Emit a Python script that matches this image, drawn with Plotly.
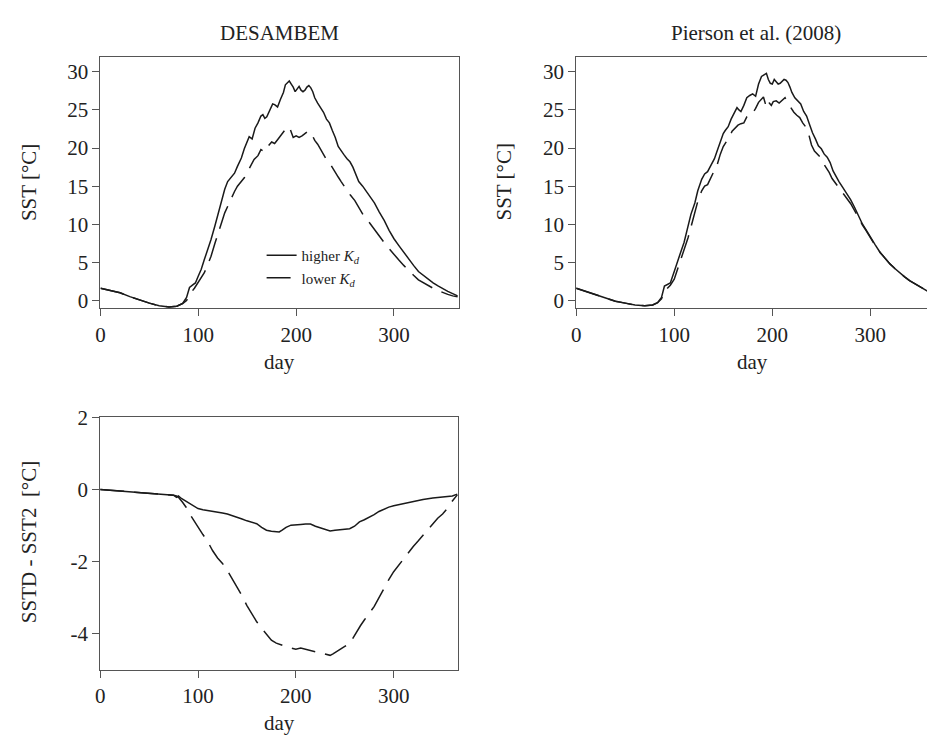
import plotly.graph_objects as go

# ---------------- data ----------------
# Panel 1: DESAMBEM, SST [°C]
day_d_high = [0, 10, 20, 30, 40, 50, 60, 70, 78, 84, 88, 91, 94, 97, 100, 103, 106, 110, 113, 117,
              120, 124, 127, 130, 133, 137, 140, 144, 147, 150, 152, 155, 158, 161, 164, 166, 168, 170,
              173, 176, 178, 181, 184, 187, 189, 191, 193, 195, 197, 199, 201, 203, 205, 207, 209, 211,
              213, 215, 217, 219, 222, 225, 228, 231, 234, 237, 240, 243, 246, 249, 252, 255, 258, 261,
              264, 268, 272, 276, 280, 285, 290, 295, 300, 305, 310, 315, 320, 325, 330, 335, 340, 345,
              350, 355, 360, 365]
sst_d_high = [1.6, 1.3, 1.0, 0.5, 0.05, -0.35, -0.7, -0.85, -0.75, -0.4, 0.4, 1.7, 2.0, 2.3, 3.2, 4.1,
              5.3, 6.7, 8.0, 9.8, 11.2, 12.9, 14.6, 15.6, 16.1, 16.7, 17.6, 18.7, 19.9, 20.9, 21.5, 21.2,
              22.6, 23.3, 24.2, 24.4, 23.9, 24.1, 25.0, 25.8, 25.7, 25.4, 26.4, 27.3, 28.3, 28.5, 28.8,
              28.4, 28.0, 27.4, 27.8, 28.1, 27.6, 27.4, 27.6, 28.0, 28.2, 27.9, 27.4, 26.6, 25.9, 25.3,
              24.7, 23.8, 23.3, 22.3, 21.4, 20.2, 19.6, 19.1, 18.6, 18.2, 17.5, 16.4, 15.6, 15.0, 14.3,
              13.6, 12.8, 11.6, 10.5, 9.2, 8.1, 7.2, 6.3, 5.4, 4.6, 3.8, 3.3, 2.7, 2.3, 1.9, 1.5, 1.2,
              0.9, 0.6]

day_d_low = [0, 10, 20, 30, 40, 50, 60, 70, 78, 84, 88, 90, 93, 96, 100, 103, 106, 110, 113, 117,
             120, 124, 127, 130, 133, 137, 140, 144, 147, 150, 154, 157, 161, 164, 168, 171, 175, 178,
             181, 184, 187, 190, 193, 195, 197, 200, 203, 206, 209, 212, 215, 217, 219, 222, 225, 228,
             231, 234, 237, 240, 243, 246, 250, 255, 260, 265, 270, 275, 280, 285, 290, 295, 300, 305,
             310, 315, 320, 325, 330, 335, 340, 345, 350, 355, 360, 365]
sst_d_low = [1.6, 1.3, 1.0, 0.5, 0.05, -0.35, -0.7, -0.85, -0.75, -0.4, 0.0, 0.5, 1.1, 1.6, 2.4, 3.0,
             3.6, 4.8, 5.8, 7.5, 8.6, 10.3, 11.5, 12.4, 13.3, 14.3, 15.0, 15.6, 16.1, 16.8, 17.8, 18.5,
             19.0, 19.8, 19.5, 20.2, 20.8, 20.6, 21.1, 21.6, 22.0, 22.6, 22.8, 22.2, 21.4, 21.6, 21.4,
             21.6, 21.9, 22.2, 22.1, 21.6, 21.0, 20.5, 19.8, 19.0, 18.5, 18.1, 17.4, 16.9, 16.2, 15.6,
             14.8, 13.9, 13.1, 12.0, 10.9, 10.2, 9.3, 8.4, 7.6, 6.8, 6.0, 5.3, 4.6, 3.9, 3.3, 2.7, 2.3,
             1.9, 1.6, 1.3, 1.0, 0.8, 0.6, 0.5]

# Panel 2: Pierson et al. (2008), SST [°C]
day_p_high = [0, 10, 20, 30, 40, 50, 60, 70, 78, 83, 87, 90, 93, 96, 100, 104, 107, 110, 114, 117,
              121, 124, 128, 131, 134, 137, 141, 144, 147, 150, 152, 155, 158, 161, 164, 166, 168, 171,
              174, 177, 180, 183, 186, 189, 192, 194, 196, 198, 200, 202, 204, 206, 208, 210, 212, 214,
              216, 218, 220, 223, 226, 229, 232, 235, 238, 241, 244, 247, 250, 253, 256, 259, 262, 265,
              268, 272, 276, 280, 284, 288, 292, 296, 300, 305, 310, 315, 320, 325, 330, 335, 340, 345,
              350, 355, 360, 365]
sst_p_high = [1.6, 1.2, 0.8, 0.3, -0.1, -0.35, -0.6, -0.7, -0.6, -0.3, 0.4, 1.9, 2.1, 2.3, 3.8, 5.2,
              6.5, 7.6, 9.6, 11.3, 12.8, 14.4, 15.9, 16.6, 16.9, 17.6, 18.6, 19.7, 20.8, 21.9, 22.3,
              22.8, 23.8, 24.6, 25.3, 25.0, 24.8, 25.6, 26.6, 26.9, 27.1, 26.8, 28.4, 29.4, 29.6, 29.8,
              29.0, 28.5, 28.4, 29.0, 28.7, 28.4, 28.5, 28.7, 29.0, 28.9, 28.6, 28.0, 27.3, 26.6, 26.2,
              25.8, 24.8, 24.2, 23.1, 22.0, 21.2, 20.3, 19.9, 19.2, 18.8, 18.1, 17.0, 16.2, 15.6, 14.8,
              14.0, 13.2, 12.2, 11.1, 10.0, 9.2, 8.3, 7.3, 6.3, 5.5, 4.8, 4.2, 3.6, 3.1, 2.6, 2.2, 1.8,
              1.4, 1.1, 0.8]

day_p_low = [0, 10, 20, 30, 40, 50, 60, 70, 78, 83, 87, 90, 93, 96, 100, 104, 107, 110, 114, 117,
             121, 124, 128, 131, 134, 137, 141, 144, 147, 150, 153, 156, 159, 162, 165, 168, 171, 174,
             177, 180, 183, 186, 189, 191, 193, 195, 197, 199, 201, 204, 207, 210, 213, 216, 219, 222,
             225, 228, 231, 234, 237, 240, 243, 246, 249, 252, 255, 258, 261, 264, 268, 272, 276, 280,
             284, 288, 292, 296, 300, 305, 310, 315, 320, 325, 330, 335, 340, 345, 350, 355, 360, 365]
sst_p_low = [1.6, 1.2, 0.8, 0.3, -0.1, -0.35, -0.6, -0.7, -0.6, -0.3, 0.2, 1.2, 1.6, 2.0, 2.8, 4.3,
             5.4, 6.7, 8.2, 9.6, 11.4, 13.0, 14.4, 15.0, 15.2, 16.0, 17.0, 17.9, 19.2, 20.2, 20.8, 21.4,
             22.2, 22.6, 23.0, 23.2, 23.3, 24.1, 24.6, 24.6, 25.2, 26.0, 26.5, 26.7, 25.8, 26.5, 25.9,
             25.6, 26.1, 26.2, 25.9, 26.3, 26.6, 25.9, 25.2, 24.7, 24.3, 24.0, 23.3, 22.8, 21.9, 20.4,
             19.6, 19.2, 18.8, 18.0, 17.4, 16.8, 16.0, 15.5, 14.8, 14.1, 13.4, 12.7, 11.8, 10.8, 9.9,
             9.1, 8.2, 7.2, 6.3, 5.5, 4.8, 4.2, 3.6, 3.1, 2.6, 2.2, 1.8, 1.4, 1.1, 0.8]

# Panel 3: SSTD - SST2 [°C]
day_diff_high = [0, 10, 20, 30, 40, 50, 60, 70, 75, 78, 80, 83, 86, 90, 95, 100, 105, 110, 115, 120,
                 125, 130, 135, 140, 145, 150, 155, 160, 165, 170, 175, 180, 183, 186, 190, 195, 200,
                 205, 210, 215, 220, 225, 230, 235, 240, 245, 250, 255, 260, 265, 270, 275, 280, 285,
                 290, 295, 300, 310, 320, 330, 340, 350, 360, 365]
diff_high = [0.0, -0.02, -0.04, -0.06, -0.09, -0.11, -0.12, -0.14, -0.16, -0.22, -0.18, -0.25, -0.30,
             -0.38, -0.47, -0.53, -0.56, -0.58, -0.59, -0.62, -0.65, -0.68, -0.72, -0.77, -0.82, -0.87,
             -0.91, -0.95, -1.05, -1.13, -1.16, -1.17, -1.18, -1.13, -1.05, -0.99, -0.97, -0.97, -0.96,
             -0.96, -1.02, -1.07, -1.12, -1.15, -1.13, -1.12, -1.12, -1.09, -1.02, -0.90, -0.84, -0.78,
             -0.70, -0.61, -0.54, -0.49, -0.45, -0.39, -0.33, -0.28, -0.24, -0.21, -0.18, -0.13]

day_diff_low = [0, 10, 20, 30, 40, 50, 60, 70, 75, 78, 80, 84, 88, 92, 96, 100, 105, 110, 115, 120,
                125, 130, 135, 140, 145, 150, 155, 160, 165, 170, 175, 180, 185, 190, 195, 200, 205,
                210, 215, 220, 225, 230, 235, 238, 242, 246, 250, 254, 258, 262, 266, 270, 275, 280,
                285, 290, 295, 300, 305, 310, 315, 320, 325, 330, 335, 340, 345, 350, 355, 360, 365]
diff_low = [0.0, -0.02, -0.04, -0.06, -0.09, -0.11, -0.12, -0.14, -0.16, -0.18, -0.22, -0.35, -0.50,
            -0.70, -0.88, -1.05, -1.25, -1.45, -1.70, -1.90, -2.05, -2.25, -2.48, -2.70, -2.95, -3.22,
            -3.45, -3.67, -3.85, -4.03, -4.18, -4.26, -4.32, -4.36, -4.40, -4.43, -4.40, -4.43, -4.46,
            -4.50, -4.52, -4.56, -4.60, -4.56, -4.48, -4.42, -4.35, -4.30, -4.14, -3.95, -3.78, -3.62,
            -3.45, -3.25, -3.00, -2.74, -2.50, -2.28, -2.10, -1.92, -1.75, -1.58, -1.43, -1.27, -1.12,
            -0.95, -0.80, -0.68, -0.52, -0.32, -0.15]

x_ticks = [0, 100, 200, 300]
sst_ticks = [0, 5, 10, 15, 20, 25, 30]
diff_ticks = [-4, -2, 0, 2]
diff_tick_labels = ["-4", "-2", "0", "2"]

# ---------------- figure ----------------
W, H = 927, 740
LINE = "#1a1a1a"
SERIF = "Liberation Serif"
solid = dict(color=LINE, width=1.5)
dashed = dict(color=LINE, width=1.5, dash="24px,10px")

fig = go.Figure()
fig.add_trace(go.Scatter(x=day_d_high, y=sst_d_high, mode="lines", line=solid,
                         name="higher <i>K<sub>d</sub></i>", xaxis="x", yaxis="y"))
fig.add_trace(go.Scatter(x=day_d_low, y=sst_d_low, mode="lines", line=dashed,
                         name="lower <i>K<sub>d</sub></i>", xaxis="x", yaxis="y"))
fig.add_trace(go.Scatter(x=day_p_high, y=sst_p_high, mode="lines", line=solid,
                         showlegend=False, xaxis="x2", yaxis="y2"))
fig.add_trace(go.Scatter(x=day_p_low, y=sst_p_low, mode="lines", line=dashed,
                         showlegend=False, xaxis="x2", yaxis="y2"))
fig.add_trace(go.Scatter(x=day_diff_high, y=diff_high, mode="lines", line=solid,
                         showlegend=False, xaxis="x3", yaxis="y3"))
fig.add_trace(go.Scatter(x=day_diff_low, y=diff_low, mode="lines", line=dashed,
                         showlegend=False, xaxis="x3", yaxis="y3"))

tickfont = dict(family=SERIF, size=21, color="#222")


def ax(**kw):
    d = dict(showline=True, linecolor="#555", linewidth=1, mirror=True, ticks="outside",
             ticklen=7, tickwidth=1, tickcolor="#555", showgrid=False, zeroline=False,
             tickfont=tickfont, fixedrange=True)
    d.update(kw)
    return d


def px_x(p):
    return min(1.0, p / W)


def px_y(p):
    return 1 - p / H


top_dom = [px_y(303), px_y(46)]
bot_dom = [px_y(672.3), px_y(414.3)]

fig.update_layout(
    width=W, height=H,
    margin=dict(l=0, r=0, t=0, b=0),
    paper_bgcolor="white", plot_bgcolor="white",
    font=dict(family=SERIF, size=21, color="#222"),
    xaxis=ax(domain=[px_x(96), px_x(456)], range=[0, 366], tickvals=x_ticks, anchor="y"),
    yaxis=ax(domain=top_dom, range=[-1.05, 31.95], tickvals=sst_ticks, anchor="x"),
    xaxis2=ax(domain=[px_x(574.3), 1.0], range=[0, 357.8], tickvals=x_ticks, anchor="y2"),
    yaxis2=ax(domain=top_dom, range=[-1.05, 31.95], tickvals=sst_ticks, anchor="x2", mirror=False),
    xaxis3=ax(domain=[px_x(95.7), px_x(455.7)], range=[0, 366], tickvals=x_ticks, anchor="y3"),
    yaxis3=ax(domain=bot_dom, range=[-5, 2], tickvals=diff_ticks, ticktext=diff_tick_labels,
              anchor="x3"),
    showlegend=True,
    legend=dict(x=px_x(258), y=px_y(232), xanchor="left", yanchor="top",
                bgcolor="rgba(0,0,0,0)", font=dict(family=SERIF, size=15, color="#222"),
                tracegroupgap=0, itemwidth=30),
)

ann = [
    dict(text="DESAMBEM", x=px_x(276), y=px_y(21)),
    dict(text="Pierson et al. (2008)", x=px_x(755), y=px_y(21)),
    dict(text="day", x=px_x(276), y=px_y(358)),
    dict(text="day", x=px_x(752), y=px_y(358)),
    dict(text="day", x=px_x(276), y=px_y(727)),
    dict(text="SST [°C]", x=px_x(24), y=px_y(174), textangle=-90),
    dict(text="SST [°C]", x=px_x(502), y=px_y(174), textangle=-90),
    dict(text="SSTD - SST2  [°C]", x=px_x(24), y=px_y(542), textangle=-90),
]
for a in ann:
    fig.add_annotation(xref="paper", yref="paper", showarrow=False, xanchor="center",
                       yanchor="middle", font=dict(family=SERIF, size=21, color="#222"), **a)

# let the figure sit at the page origin (no default body margin / scrollbars), no modebar
fig.write_html("out.html",
               config={"displayModeBar": False},
               post_script="document.body.style.margin='0px';document.body.style.overflow='hidden';")
